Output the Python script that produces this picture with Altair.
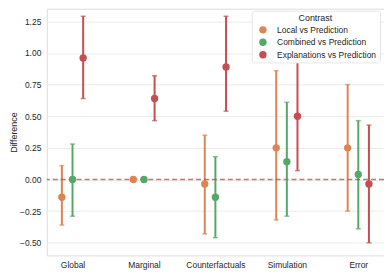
import altair as alt
import pandas as pd

categories = ["Global", "Marginal", "Counterfactuals", "Simulation", "Error"]
contrasts = ["Local vs Prediction", "Combined vs Prediction", "Explanations vs Prediction"]
colors = ["#dd8452", "#55a868", "#c44e52"]

# estimates per contrast, in category order
local_est = [-0.14, 0.00, -0.035, 0.25, 0.25]
local_lo = [-0.36, None, -0.43, -0.32, -0.25]
local_hi = [0.11, None, 0.35, 0.86, 0.75]

comb_est = [0.00, 0.00, -0.14, 0.14, 0.04]
comb_lo = [-0.29, None, -0.46, -0.29, -0.39]
comb_hi = [0.28, None, 0.18, 0.61, 0.465]

expl_est = [0.96, 0.64, 0.89, 0.50, -0.035]
expl_lo = [0.64, 0.465, 0.54, 0.07, -0.50]
expl_hi = [1.29, 0.82, 1.29, 0.93, 0.43]

rows = []
for name, est, lo, hi in [
    (contrasts[0], local_est, local_lo, local_hi),
    (contrasts[1], comb_est, comb_lo, comb_hi),
    (contrasts[2], expl_est, expl_lo, expl_hi),
]:
    for c, e, l, h in zip(categories, est, lo, hi):
        rows.append({"Category": c, "Contrast": name, "est": e, "lo": l, "hi": h})
df = pd.DataFrame(rows)
ci = df.dropna(subset=["lo"])

font = "Liberation Sans"
txt = "#262626"
xenc = alt.X("Category:N", sort=categories,
             scale=alt.Scale(type="point", padding=0.36),
             axis=alt.Axis(title=None, labelAngle=0, domain=False, ticks=False,
                           grid=False, labelFontSize=8.5, labelColor=txt,
                           labelPadding=5, labelFont=font))
xoff = alt.XOffset("Contrast:N", sort=contrasts,
                   scale=alt.Scale(type="point", domain=contrasts, range=[-10.7, 10.7], padding=0))
yscale = alt.Scale(domain=[-0.6, 1.35], nice=False, zero=False)
yaxis = alt.Axis(title="Difference", values=[-0.5, -0.25, 0, 0.25, 0.5, 0.75, 1.0, 1.25],
                 format=".2f", domain=False, ticks=False, gridColor="#ebebeb",
                 labelOverlap=False,
                 labelFontSize=8.5, labelColor=txt, labelPadding=6,
                 titleFontSize=9, titleFontWeight="normal", titleColor=txt,
                 titlePadding=1, labelFont=font, titleFont=font)
cscale = alt.Scale(domain=contrasts, range=colors)
nolegend = alt.Color("Contrast:N", scale=cscale, legend=None)

cib = alt.Chart(ci)

bars = cib.mark_rule(strokeWidth=2).encode(
    x=xenc, xOffset=xoff,
    y=alt.Y("lo:Q", scale=yscale, axis=yaxis), y2="hi:Q",
    color=nolegend)
cap_lo = cib.mark_tick(size=5, thickness=1.5).encode(
    x=xenc, xOffset=xoff, y=alt.Y("lo:Q", scale=yscale, axis=yaxis),
    color=nolegend)
cap_hi = cib.mark_tick(size=5, thickness=1.5).encode(
    x=xenc, xOffset=xoff, y=alt.Y("hi:Q", scale=yscale, axis=yaxis),
    color=nolegend)
zero = alt.Chart(pd.DataFrame({"z": [0.0]})).mark_rule(
    color="#c44e52", strokeDash=[5, 3], strokeWidth=1.3, opacity=0.8).encode(
    y=alt.Y("z:Q", scale=yscale, axis=yaxis))
pts = alt.Chart(df).mark_circle(size=55, opacity=1).encode(
    x=xenc, xOffset=xoff, y=alt.Y("est:Q", scale=yscale, axis=yaxis),
    color=alt.Color("Contrast:N", scale=cscale, sort=contrasts,
                    legend=alt.Legend(title="Contrast", orient="none", legendX=206, legendY=2,
                                      titleAnchor="middle", titleFontWeight="normal",
                                      titleFontSize=9, titleColor=txt, titleFont=font,
                                      titlePadding=3,
                                      labelFontSize=8.5, labelColor=txt, labelFont=font,
                                      symbolSize=55, symbolType="circle", labelOffset=10,
                                      symbolOffset=4, symbolStrokeWidth=0,
                                      rowPadding=3.5, padding=3, fillColor="white",
                                      strokeColor="#e6e6e6", cornerRadius=3)))

chart = alt.layer(bars, cap_lo, cap_hi, zero, pts).resolve_scale(
    color="independent"
).properties(
    width=339, height=248,
    autosize=alt.AutoSizeParams(type="none"),
    padding={"left": 39, "top": 0, "right": 0, "bottom": 19},
).configure_view(stroke=None).configure(background="white")

chart.save("out.html", embed_options={"renderer": "svg", "actions": False})
